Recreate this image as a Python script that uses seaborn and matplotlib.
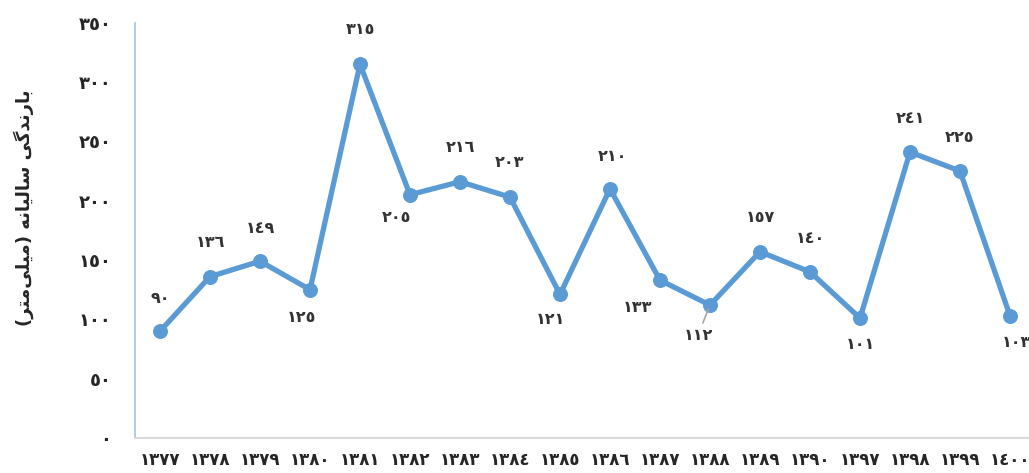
import numpy as np
import pandas as pd
import seaborn as sns
import matplotlib.pyplot as plt

# dane: lata (cyfry arabsko-indyjskie) i opady roczne
years = ["١٣٧٧", "١٣٧٨", "١٣٧٩", "١٣٨٠", "١٣٨١", "١٣٨٢", "١٣٨٣", "١٣٨٤", "١٣٨٥",
         "١٣٨٦", "١٣٨٧", "١٣٨٨", "١٣٨٩", "١٣٩٠", "١٣٩٧", "١٣٩٨", "١٣٩٩", "١٤٠٠"]
rainfall = [90, 136, 149, 125, 315, 205, 216, 203, 121, 210, 133, 112, 157, 140, 101, 241, 225, 103]
value_labels = ["٩٠", "١٣٦", "١٤٩", "١٢٥", "٣١٥", "٢٠٥", "٢١٦", "٢٠٣", "١٢١",
                "٢١٠", "١٣٣", "١١٢", "١٥٧", "١٤٠", "١٠١", "٢٤١", "٢٢٥", "١٠٣"]
y_ticks = [0, 50, 100, 150, 200, 250, 300, 350]
y_tick_labels = ["٠", "٥٠", "١٠٠", "١٥٠", "٢٠٠", "٢٥٠", "٣٠٠", "٣٥٠"]

# "بارندگی سالیانه (میلی‌متر)" w formach prezentacyjnych, kolejność wizualna
y_title = ("(" + "\uFEAE\uFE98\uFEE3" + "\uFBFD\uFEE0\uFBFF\uFEE3" + ")" + " "
           + "\uFEEA\uFEE7\uFE8E\uFBFF\uFEDF\uFE8E\uFEB3" + " "
           + "\uFBFD\uFB94\uFEAA\uFEE7\uFEAD\uFE8E\uFE91")

# przesunięcia etykiet w pikselach (dx, dy)
label_offsets = [(0, 33), (0, 34), (0, 33), (-9, -28), (0, 35), (-14, -23), (0, 34), (0, 35),
                 (-10, -25), (2, 32), (-22, -27), (-12, -30), (0, 34), (0, 33), (0, -26),
                 (0, 34), (0, 34), (6, -27)]

sns.set_style("white")
plt.rcParams['font.family'] = ['DejaVu Sans']
plt.rcParams['font.weight'] = 'bold'

df = pd.DataFrame({"year": years, "rainfall": rainfall})

fig = plt.figure(figsize=(10.29, 4.73), dpi=100)
ax = fig.add_axes([135 / 1029, 35 / 473, 900 / 1029, 415.3 / 473])

line_color = "#5B9BD5"
sns.lineplot(data=df, x="year", y="rainfall", ax=ax, color=line_color, linewidth=3.8,
             marker="o", markersize=10, markeredgecolor=line_color, sort=False)

for i, (val, txt) in enumerate(zip(rainfall, value_labels)):
    dx, dy = label_offsets[i]
    arrow = None
    if txt == "١١٢":
        arrow = dict(arrowstyle="-", color="#A6A6A6", lw=1.2, shrinkA=1, shrinkB=3)
    ax.annotate(txt, (i, val), xytext=(dx, dy), textcoords="offset pixels",
                ha="center", va="center", fontsize=11.5, fontweight="bold", color="#333333",
                arrowprops=arrow, zorder=5)

ax.set_xlim(-0.5, len(years) - 0.5)
ax.set_ylim(0, 350)
ax.set_yticks(y_ticks)
ax.set_yticklabels(y_tick_labels, fontsize=13, fontweight="bold")
ax.set_xticks(range(len(years)))
ax.set_xticklabels(years, fontsize=12, fontweight="bold")
ax.set_xticks(np.arange(-0.5, len(years), 1), minor=True)
ax.tick_params(axis="x", which="major", length=0, pad=9)
ax.tick_params(axis="x", which="minor", length=5, color="#D9D9D9", width=1.2, direction="out")
ax.tick_params(axis="y", length=6, color="#9DC3E6", width=1, direction="out", pad=11)

for s in ["top", "right"]:
    ax.spines[s].set_visible(False)
ax.spines["left"].set_color("#9DC3E6")
ax.spines["left"].set_linewidth(1.2)
ax.spines["bottom"].set_color("#D9D9D9")
ax.spines["bottom"].set_linewidth(1.5)

ax.set_xlabel("")
ax.set_ylabel(y_title, fontsize=13, fontweight="bold")
ax.yaxis.set_label_coords(-0.112, 0.554)
ax.grid(False)

fig.savefig("out.png", dpi=100)
